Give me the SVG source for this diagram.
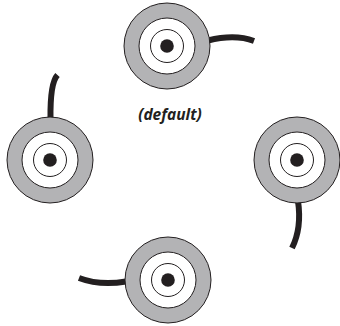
<svg xmlns="http://www.w3.org/2000/svg" width="340" height="326" viewBox="0 0 340 326">
<defs>
<style>
.outer{fill:#b3b3b5;stroke:#231f20;stroke-width:1}
.mid{fill:#fff;stroke:#231f20;stroke-width:1}
.inner{fill:#fff;stroke:#231f20;stroke-width:1}
.dot{fill:#231f20}
.cable{fill:none;stroke:#231f20;stroke-width:6}
.lbl{font-family:"Open Sans","Noto Sans",sans-serif;font-weight:bold;font-style:italic;font-size:15.5px;fill:#231f20}
</style>
<g id="jack">
<circle class="outer" r="43"/>
<circle class="mid" r="28"/>
<circle class="inner" r="16.5"/>
<circle class="dot" r="6.8"/>
</g>
</defs>
<g id="connectors">
<path class="cable" d="M208 40.5 Q235 34 254 41"/>
<path class="cable" d="M50.5 119 Q50 83 57.5 75"/>
<path class="cable" d="M298 201 Q302 228 292 248"/>
<path class="cable" d="M126 281.5 Q100 286 79 278"/>
</g>
<g id="node-top"><use href="#jack" x="167" y="46"/></g>
<g id="node-left"><use href="#jack" x="50" y="160"/></g>
<g id="node-right"><use href="#jack" x="297" y="160"/></g>
<g id="node-bottom"><use href="#jack" x="168" y="280"/></g>
<g id="label"><text class="lbl" x="170" y="120" text-anchor="middle">(default)</text></g>
</svg>
